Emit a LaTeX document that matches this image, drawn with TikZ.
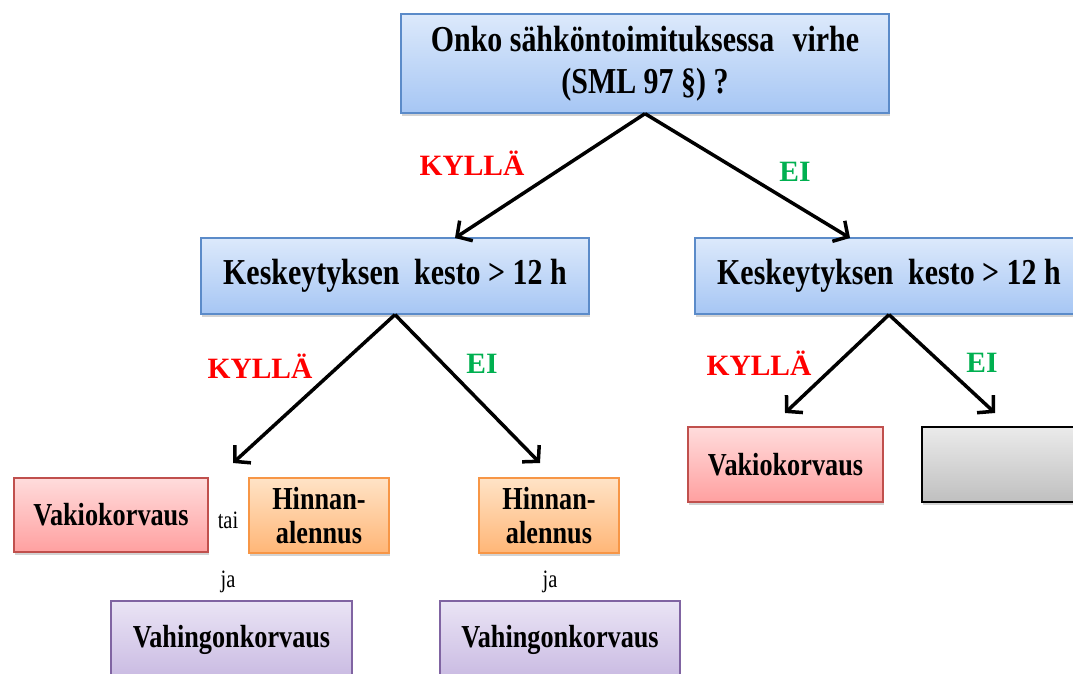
\documentclass[tikz,border=0pt]{standalone}
\usepackage{fontspec}
\setmainfont{Liberation Serif}[FakeStretch=0.82]
\newfontfamily\labelfont{Liberation Serif}
\usetikzlibrary{arrows.meta,shadows}
\definecolor{blueline}{HTML}{5B8BC9}
\definecolor{bluetop}{HTML}{DCE9FB}
\definecolor{bluebottom}{HTML}{A6C6F4}
\definecolor{redline}{HTML}{C0504D}
\definecolor{redtop}{HTML}{FFDCDC}
\definecolor{redbottom}{HTML}{FFA0A0}
\definecolor{orangeline}{HTML}{F79646}
\definecolor{orangetop}{HTML}{FFE3C6}
\definecolor{orangebottom}{HTML}{FFB677}
\definecolor{purpleline}{HTML}{8064A2}
\definecolor{purpletop}{HTML}{EAE4F5}
\definecolor{purplebottom}{HTML}{C9BAE2}
\definecolor{kyllared}{HTML}{FF0000}
\definecolor{eigreen}{HTML}{00B050}
\tikzset{
	box/.style={
		rectangle,
		line width=1.3pt,
		align=center,
		drop shadow={shadow xshift=1pt,shadow yshift=-3pt,opacity=0.35}
	},
	bluebox/.style={box,draw=blueline,top color=bluetop,bottom color=bluebottom,
		font=\fontsize{36.5}{42}\selectfont\bfseries},
	redbox/.style={box,draw=redline,top color=redtop,bottom color=redbottom,
		font=\fontsize{32}{34}\selectfont\bfseries},
	orangebox/.style={box,draw=orangeline,top color=orangetop,bottom color=orangebottom,
		font=\fontsize{32}{34}\selectfont\bfseries},
	purplebox/.style={box,draw=purpleline,top color=purpletop,bottom color=purplebottom,
		font=\fontsize{32}{34}\selectfont\bfseries},
	greybox/.style={box,draw=black,top color=black!8,bottom color=black!25},
	kyllalabel/.style={text=kyllared,font=\labelfont\fontsize{29.5}{32}\selectfont\bfseries},
	eilabel/.style={text=eigreen,font=\labelfont\fontsize{29.5}{32}\selectfont\bfseries},
	smalltext/.style={font=\fontsize{25}{28}\selectfont},
	choice/.style={
		-{Straight Barb[length=11pt,width=24pt]},
		line width=3.5pt
	}
}
\begin{document}
\begin{tikzpicture}[x=1pt,y=-1pt]
	\clip (0,0) rectangle (1073,673);

	%%% Nodes
	%% Top
	\node at (645,63.5) [bluebox,minimum width=488pt,minimum height=99pt] (virhe)
		{Onko sähköntoimituksessa\enspace virhe\\(SML 97 §) ?};

	%% Middle
	\node at (395,276) [bluebox,minimum width=388pt,minimum height=76pt] (leftkesto)
		{Keskeytyksen\hspace{0.2em} kesto > 12 h};
	\node at (889,276) [bluebox,minimum width=388pt,minimum height=76pt] (rightkesto)
		{Keskeytyksen\hspace{0.2em} kesto > 12 h};

	%% Bottom left
	\node at (111,515) [redbox,minimum width=194pt,minimum height=74pt] (leftvakio) {Vakiokorvaus};
	\node at (319,515.5) [orangebox,minimum width=140pt,minimum height=75pt] (lefthinta) {Hinnan-\\alennus};
	\node at (549,515.5) [orangebox,minimum width=140pt,minimum height=75pt] (righthinta) {Hinnan-\\alennus};
	\node at (231.5,640) [purplebox,minimum width=241pt,minimum height=78pt] (leftvahinko) {Vahingonkorvaus};
	\node at (560,640) [purplebox,minimum width=240pt,minimum height=78pt] (rightvahinko) {Vahingonkorvaus};

	\node at (228,520) [smalltext] (tai) {tai};
	\node at (228,582) [smalltext] (leftja) {ja};
	\node at (550,582) [smalltext] (rightja) {ja};

	%% Bottom right
	\node at (785.5,464.5) [redbox,minimum width=195pt,minimum height=75pt] (rightvakio) {Vakiokorvaus};
	\node at (1000,464.5) [greybox,minimum width=156pt,minimum height=75pt] (tyhja) {};

	%%% Connections
	\coordinate (virhekylla) at (455,238);
	\coordinate (virheei) at (850,238);
	\coordinate (leftkylla) at (233,463);
	\coordinate (leftei) at (540,463);
	\coordinate (rightkylla) at (785,413);
	\coordinate (rightei) at (995,413);

	\draw [choice] (virhe.south) -- (virhekylla);
	\draw [choice] (virhe.south) -- (virheei);
	\draw [choice] (leftkesto.south) -- (leftkylla);
	\draw [choice] (leftkesto.south) -- (leftei);
	\draw [choice] (rightkesto.south) -- (rightkylla);
	\draw [choice] (rightkesto.south) -- (rightei);

	%%% Labels
	\node at (472,163) [kyllalabel] (kylla1) {KYLLÄ};
	\node at (795,172) [eilabel] (ei1) {EI};
	\node at (260,366) [kyllalabel] (kylla2) {KYLLÄ};
	\node at (482,364) [eilabel] (ei2) {EI};
	\node at (759,363) [kyllalabel] (kylla3) {KYLLÄ};
	\node at (982,363) [eilabel] (ei3) {EI};
\end{tikzpicture}
\end{document}
